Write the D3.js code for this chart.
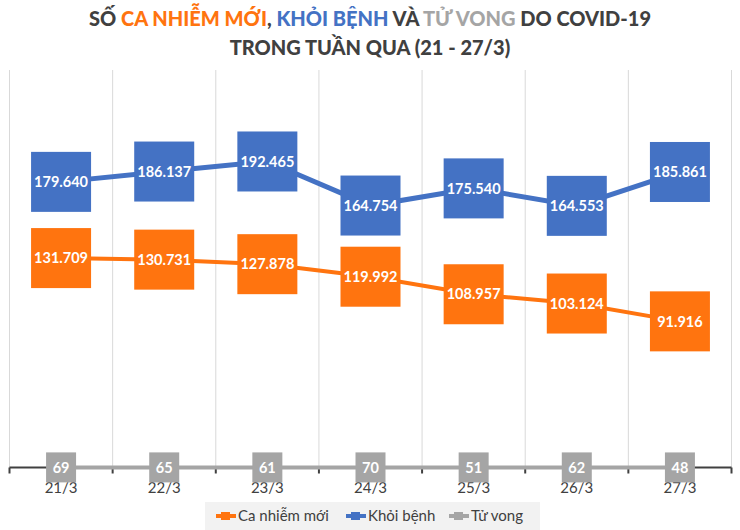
<!DOCTYPE html>
<html><head><meta charset="utf-8">
<script src="https://cdn.jsdelivr.net/npm/d3@7/dist/d3.min.js"></script>
<style>body{margin:0;background:#fff}svg{display:block}</style>
</head><body><svg id="c" width="740" height="530"></svg>
<script>
const categories = ["21/3","22/3","23/3","24/3","25/3","26/3","27/3"];
const caNhiem = [131709,130731,127878,119992,108957,103124,91916];
const khoiBenh = [179640,186137,192465,164754,175540,164553,185861];
const tuVong = [69,65,61,70,51,62,48];
const seriesNames = ["Ca nhiễm mới","Khỏi bệnh","Tử vong"];
const colors = ["#FF740F","#4472C4","#A5A5A5"];

const svg = d3.select("#c");
const FONT = "Lato, 'Open Sans', sans-serif";
const x = d3.scaleBand().domain(categories).range([9.5,731.5]);
const y = d3.scaleLinear().domain([0,250000]).range([467.5,70]);
const cx = d => x(d)+x.bandwidth()/2;
const fmt = v => v >= 1000 ? d3.format(",")(v).replace(/,/g,".") : String(v);

// Title
const t = svg.append("text").attr("x",370).attr("y",26).attr("text-anchor","middle")
  .style("font-family",FONT).style("font-weight","900").style("font-size","20px").attr("fill","#404040");
[["SỐ ","#404040"],["CA NHIỄM MỚI",colors[0]],[", ","#404040"],["KHỎI BỆNH",colors[1]],[" VÀ ","#404040"],["TỬ VONG",colors[2]],[" DO COVID-19","#404040"]]
 .forEach(([s,c])=>t.append("tspan").attr("fill",c).text(s));
svg.append("text").attr("x",370).attr("y",55).attr("text-anchor","middle")
  .style("font-family",FONT).style("font-weight","900").style("font-size","20px").attr("fill","#404040")
  .text("TRONG TUẦN QUA (21 - 27/3)");

// vertical gridlines at band boundaries
const bounds = categories.map(c=>x(c)).concat([x.range()[1]]);
svg.append("g").selectAll("line").data(bounds).join("line")
  .attr("x1",d=>d).attr("x2",d=>d).attr("y1",70).attr("y2",467.5)
  .attr("stroke","#D9D9D9").attr("stroke-width",1);

// x axis
const xAxis = d3.axisBottom(x).tickSize(0).tickPadding(0);
const ax = svg.append("g").attr("transform","translate(0,467.5)");
ax.append("line").attr("x1",x.range()[0]).attr("x2",x.range()[1]).attr("stroke","#404040").attr("stroke-width",2);
ax.selectAll("line.tk").data(bounds).join("line").attr("class","tk")
  .attr("x1",d=>d).attr("x2",d=>d).attr("y1",0).attr("y2",6).attr("stroke","#404040").attr("stroke-width",2);
const axg = svg.append("g").attr("transform","translate(0,479)").call(xAxis);
axg.select(".domain").remove();
axg.selectAll("text").style("font-family",FONT).style("font-size","15px").attr("fill","#404040").attr("dy","0.9em");

// series
const series = [
  {vals:caNhiem, color:colors[0], w:4, box:60},
  {vals:khoiBenh, color:colors[1], w:5, box:60},
  {vals:tuVong, color:colors[2], w:4, box:30}
];
const line = d3.line().x((d,i)=>cx(categories[i])).y(d=>y(d));
series.slice().reverse().forEach(s=>{
  svg.append("path").datum(s.vals).attr("d",line).attr("fill","none")
    .attr("stroke",s.color).attr("stroke-width",s.w);
});
series.forEach(s=>{
  const g = svg.append("g");
  g.selectAll("rect").data(s.vals).join("rect")
    .attr("x",(d,i)=>cx(categories[i])-s.box/2).attr("y",d=>y(d)-s.box/2)
    .attr("width",s.box).attr("height",s.box).attr("fill",s.color);
  g.selectAll("text").data(s.vals).join("text")
    .attr("x",(d,i)=>cx(categories[i])).attr("y",d=>y(d)).attr("dy","0.36em")
    .attr("text-anchor","middle").attr("fill","#fff")
    .style("font-family",FONT).style("font-weight","bold").style("font-size","14.5px")
    .text(fmt);
});

// legend
svg.append("rect").attr("x",205).attr("y",502).attr("width",335).attr("height",28).attr("fill","#F2F2F2");
const legX = [216,346,449];
seriesNames.forEach((n,i)=>{
  const g = svg.append("g").attr("transform",`translate(${legX[i]},516)`);
  g.append("line").attr("x1",0).attr("x2",20).attr("stroke",colors[i]).attr("stroke-width",4);
  g.append("rect").attr("x",5).attr("y",-4).attr("width",9).attr("height",8).attr("fill",colors[i]);
  g.append("text").attr("x",22).attr("dy","0.35em").style("font-family",FONT).style("font-size","15px")
    .attr("fill","#404040").text(n);
});
</script></body></html>
